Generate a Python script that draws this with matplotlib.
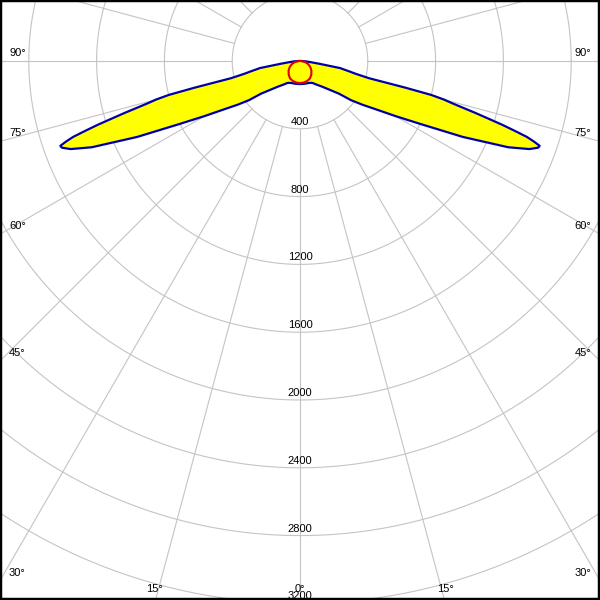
import numpy as np
import matplotlib
matplotlib.use("Agg")
import matplotlib.pyplot as plt

# ---- data ----
gamma_blue = [0, 10, 20, 25, 30, 35, 40, 45, 50, 52.5, 55, 57.5, 60, 62.5, 65, 67.5,
              69, 70, 70.5, 71, 71.5, 72, 72.5, 73, 73.5, 74, 74.5, 75, 75.5, 75.8, 76, 77, 78,
              80, 82, 84, 87, 90]
I_blue = [136, 137, 139, 142, 150, 170, 195, 235, 300, 380, 450, 530, 650, 810, 1060, 1330,
          1450, 1495, 1500, 1460, 1411, 1330, 1250, 1160, 1080, 1000, 930, 880, 800, 640, 420, 340, 300,
          240, 110, 60, 30, 10]
gamma_red = [0, 10, 20, 30, 40, 50, 60, 70, 80, 90]
I_red = [130, 129, 125, 118, 104, 88, 70, 50, 28, 5]
radial_ticks = [400, 800, 1200, 1600, 2000, 2400, 2800, 3200]
angle_labels = [0, 15, 30, 45, 60, 75, 90]

# ---- geometry ----
W, H = 600, 600
cx_px, cy_px = 300, 61
px_per_400 = 67.8
s = 400.0 / px_per_400  # cd per pixel

fig = plt.figure(figsize=(6, 6), dpi=100)
ax = fig.add_axes([0, 0, 1, 1])
xmin, xmax = -cx_px * s, (W - cx_px) * s
ymin, ymax = -(H - cy_px) * s, cy_px * s
ax.set_xlim(xmin, xmax)
ax.set_ylim(ymin, ymax)
ax.set_aspect('auto')
ax.set_xticks([]); ax.set_yticks([])
for sp in ax.spines.values():
    sp.set_linewidth(3.2)
    sp.set_color('black')

grid_c = '#c4c4c4'
t = np.linspace(0, 2 * np.pi, 721)
for r in radial_ticks:
    ax.plot(r * np.cos(t), r * np.sin(t), color=grid_c, lw=0.8, zorder=1)
rmax = 6000
for a in range(0, 360, 15):
    ar = np.deg2rad(a)
    ax.plot([400 * np.sin(ar), rmax * np.sin(ar)], [-400 * np.cos(ar), -rmax * np.cos(ar)],
            color=grid_c, lw=0.8, zorder=1)

def to_xy(g, I):
    g = np.deg2rad(np.asarray(g, float)); I = np.asarray(I, float)
    return I * np.sin(g), -I * np.cos(g)

# blue C0-C180 curve, mirrored
gb = np.concatenate([-np.array(gamma_blue[::-1]), np.array(gamma_blue[1:])])
Ib = np.concatenate([np.array(I_blue[::-1]), np.array(I_blue[1:])])
xb, yb = to_xy(gb, Ib)
ax.fill(xb, yb, color='#ffff00', zorder=3, lw=0)
ax.plot(xb, yb, color='#0000a8', lw=1.6, zorder=4, solid_joinstyle='round')

gr = np.concatenate([-np.array(gamma_red[::-1]), np.array(gamma_red[1:])])
Ir = np.concatenate([np.array(I_red[::-1]), np.array(I_red[1:])])
xr, yr = to_xy(gr, Ir)
ax.plot(xr, yr, color='#e00000', lw=1.5, zorder=5)

font = dict(family=['Liberation Sans', 'DejaVu Sans'], fontsize=8, color='black')
for r in radial_ticks:
    ax.text(0, -r + 2 * s, str(r), ha='center', va='bottom', zorder=6, **font)

for a in angle_labels:
    ar = np.deg2rad(a)
    if a == 0:
        ax.text(0, ymin + 6 * s, '0°', ha='center', va='bottom', zorder=6, **font)
        continue
    dy_exit = cx_px * s / np.tan(ar)
    yexit = -dy_exit
    if yexit > ymin:
        for sign in (-1, 1):
            xt = sign * (cx_px - 9) * s
            ax.text(xt, yexit + 3 * s, f'{a}°', ha='left' if sign < 0 else 'right',
                    va='bottom', zorder=6, **font)
    else:
        dx_exit = (H - cy_px) * s * np.tan(ar)
        for sign in (-1, 1):
            ax.text(sign * (dx_exit + 1.5 * s), ymin + 6 * s, f'{a}°', ha='center',
                    va='bottom', zorder=6, **font)

fig.savefig('out.png', dpi=100)
